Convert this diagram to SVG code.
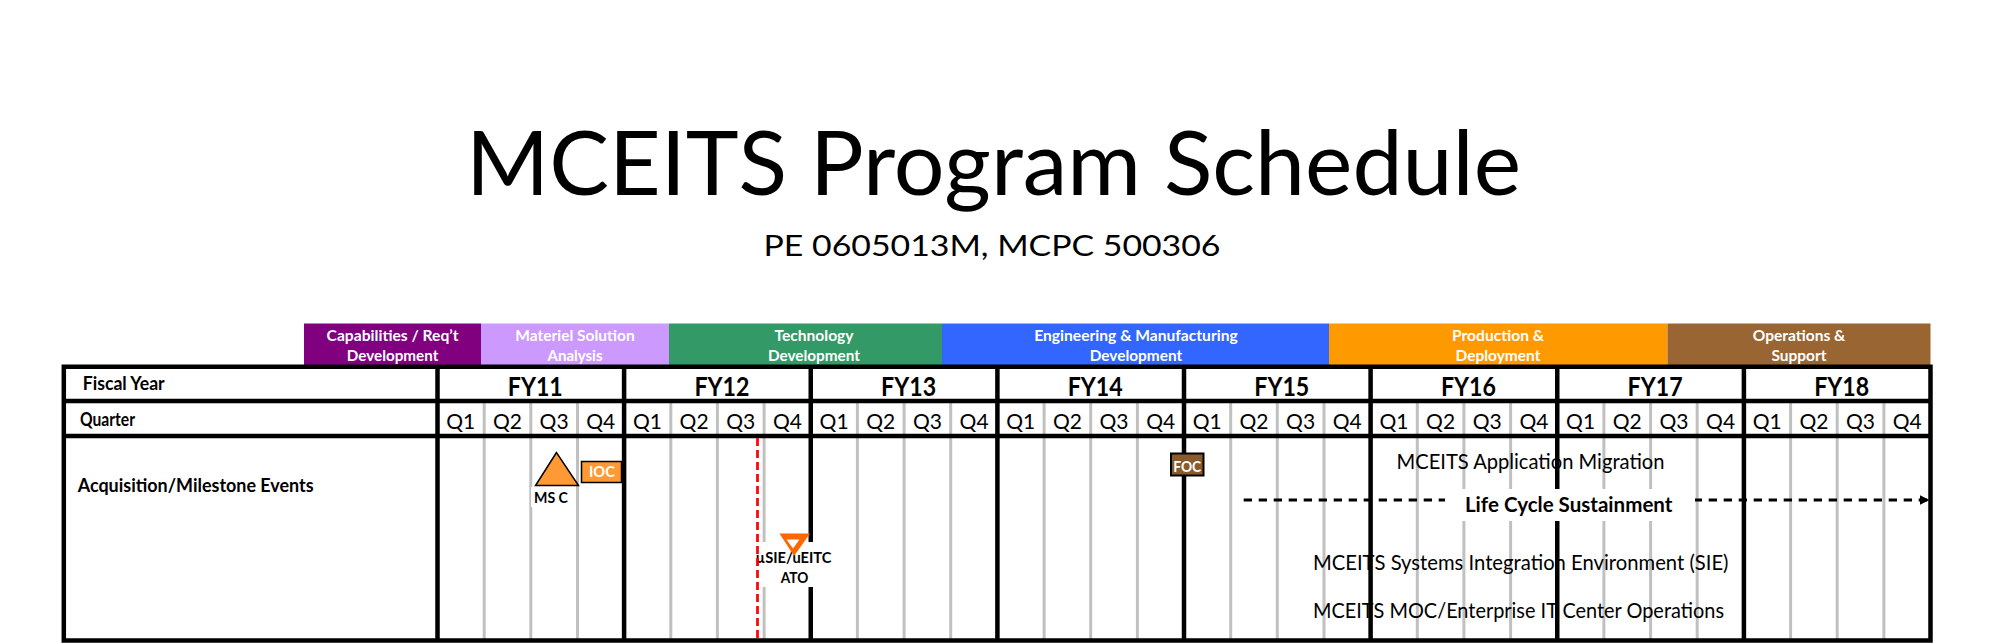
<svg xmlns="http://www.w3.org/2000/svg" width="2014" height="643" viewBox="0 0 2014 643">
<style>
text{font-family:Lato,"Liberation Sans",sans-serif;fill:#000}
.ph{font-size:15px;font-weight:bold;fill:#fff;text-anchor:middle}
.hd{font-size:18.5px;font-weight:bold}
.fy{font-size:26px;font-weight:bold;text-anchor:middle}
.q{font-size:21px;text-anchor:middle}
.row{font-size:20.5px}
.lbl{font-size:15px;font-weight:bold;text-anchor:middle}
.grid{stroke:#C0C0C0;stroke-width:3}
.bk{stroke:#000;stroke-width:4.5}
.wb{fill:#fff}
</style>
<defs>
<marker id="arr" markerUnits="userSpaceOnUse" markerWidth="11" markerHeight="11" refX="10" refY="5" orient="auto"><path d="M0,0 L10,5 L0,10 z" fill="#000"/></marker>
</defs>
<rect width="2014" height="643" fill="#fff"/>
<g id="title">
<text x="993.5" y="195" text-anchor="middle" font-size="89" textLength="1055" lengthAdjust="spacingAndGlyphs">MCEITS Program Schedule</text>
<text x="992" y="256" text-anchor="middle" font-size="29" textLength="457" lengthAdjust="spacingAndGlyphs">PE 0605013M, MCPC 500306</text>
</g>
<g id="phases">
<g id="phase-crd"><rect x="304" y="323.5" width="177" height="42.5" fill="#800080"/><text class="ph" x="392.6" y="341" textLength="132" lengthAdjust="spacingAndGlyphs">Capabilities / Req’t</text><text class="ph" x="392.6" y="361" textLength="91.5" lengthAdjust="spacingAndGlyphs">Development</text></g>
<g id="phase-msa"><rect x="481" y="323.5" width="188" height="42.5" fill="#CC99FF"/><text class="ph" x="575" y="341" textLength="119.5" lengthAdjust="spacingAndGlyphs">Materiel Solution</text><text class="ph" x="575" y="361" textLength="55" lengthAdjust="spacingAndGlyphs">Analysis</text></g>
<g id="phase-td"><rect x="669" y="323.5" width="273" height="42.5" fill="#339966"/><text class="ph" x="814" y="341" textLength="79" lengthAdjust="spacingAndGlyphs">Technology</text><text class="ph" x="814" y="361" textLength="92" lengthAdjust="spacingAndGlyphs">Development</text></g>
<g id="phase-emd"><rect x="942" y="323.5" width="387" height="42.5" fill="#3366FF"/><text class="ph" x="1136" y="341" textLength="203.5" lengthAdjust="spacingAndGlyphs">Engineering &amp; Manufacturing</text><text class="ph" x="1136" y="361" textLength="92.5" lengthAdjust="spacingAndGlyphs">Development</text></g>
<g id="phase-pd"><rect x="1329" y="323.5" width="338.5" height="42.5" fill="#FF9900"/><text class="ph" x="1498" y="341" textLength="92" lengthAdjust="spacingAndGlyphs">Production &amp;</text><text class="ph" x="1498" y="361" textLength="85" lengthAdjust="spacingAndGlyphs">Deployment</text></g>
<g id="phase-os"><rect x="1667.5" y="323.5" width="263" height="42.5" fill="#996633"/><text class="ph" x="1799" y="341" textLength="92.5" lengthAdjust="spacingAndGlyphs">Operations &amp;</text><text class="ph" x="1799" y="361" textLength="55" lengthAdjust="spacingAndGlyphs">Support</text></g>
</g>
<g id="grid-quarters">
<path class="grid" d="M484.2,401V640M530.8,401V640M577.5,401V640M670.8,401V640M717.4,401V640M764.1,401V640M857.4,401V640M904.1,401V640M950.7,401V640M1044.1,401V640M1090.7,401V640M1137.4,401V640M1230.7,401V640M1277.3,401V640M1324,401V640M1417.3,401V640M1463.9,401V640M1510.6,401V640M1603.9,401V640M1650.6,401V640M1697.2,401V640M1790.6,401V640M1837.2,401V640M1883.9,401V640"/>
</g>
<g id="header-labels">
<text class="hd" x="82.7" y="390" textLength="82" lengthAdjust="spacingAndGlyphs">Fiscal Year</text>
<text class="hd" x="80" y="425.7" textLength="55" lengthAdjust="spacingAndGlyphs">Quarter</text>
<text class="hd" x="77.7" y="491.7" font-size="17.5" textLength="236" lengthAdjust="spacingAndGlyphs">Acquisition/Milestone Events</text>
</g>
<g id="fiscal-years">
<text class="fy" x="535.3" y="395.5" textLength="55" lengthAdjust="spacingAndGlyphs">FY11</text>
<text class="fy" x="721.9" y="395.5" textLength="55" lengthAdjust="spacingAndGlyphs">FY12</text>
<text class="fy" x="908.6" y="395.5" textLength="55" lengthAdjust="spacingAndGlyphs">FY13</text>
<text class="fy" x="1095.2" y="395.5" textLength="55" lengthAdjust="spacingAndGlyphs">FY14</text>
<text class="fy" x="1281.8" y="395.5" textLength="55" lengthAdjust="spacingAndGlyphs">FY15</text>
<text class="fy" x="1468.5" y="395.5" textLength="55" lengthAdjust="spacingAndGlyphs">FY16</text>
<text class="fy" x="1655.1" y="395.5" textLength="55" lengthAdjust="spacingAndGlyphs">FY17</text>
<text class="fy" x="1841.7" y="395.5" textLength="55" lengthAdjust="spacingAndGlyphs">FY18</text>
</g>
<g id="quarters">
<text class="q" x="460.8" y="428.5">Q1</text><text class="q" x="507.5" y="428.5">Q2</text><text class="q" x="554.1" y="428.5">Q3</text><text class="q" x="600.8" y="428.5">Q4</text>
<text class="q" x="647.4" y="428.5">Q1</text><text class="q" x="694.1" y="428.5">Q2</text><text class="q" x="740.8" y="428.5">Q3</text><text class="q" x="787.4" y="428.5">Q4</text>
<text class="q" x="834.1" y="428.5">Q1</text><text class="q" x="880.7" y="428.5">Q2</text><text class="q" x="927.4" y="428.5">Q3</text><text class="q" x="974.1" y="428.5">Q4</text>
<text class="q" x="1020.7" y="428.5">Q1</text><text class="q" x="1067.4" y="428.5">Q2</text><text class="q" x="1114" y="428.5">Q3</text><text class="q" x="1160.7" y="428.5">Q4</text>
<text class="q" x="1207.3" y="428.5">Q1</text><text class="q" x="1254" y="428.5">Q2</text><text class="q" x="1300.6" y="428.5">Q3</text><text class="q" x="1347.3" y="428.5">Q4</text>
<text class="q" x="1394" y="428.5">Q1</text><text class="q" x="1440.6" y="428.5">Q2</text><text class="q" x="1487.3" y="428.5">Q3</text><text class="q" x="1533.9" y="428.5">Q4</text>
<text class="q" x="1580.6" y="428.5">Q1</text><text class="q" x="1627.2" y="428.5">Q2</text><text class="q" x="1673.9" y="428.5">Q3</text><text class="q" x="1720.6" y="428.5">Q4</text>
<text class="q" x="1767.2" y="428.5">Q1</text><text class="q" x="1813.9" y="428.5">Q2</text><text class="q" x="1860.5" y="428.5">Q3</text><text class="q" x="1907.2" y="428.5">Q4</text>
</g>
<g id="activity-migration"><text class="row" x="1396.5" y="469.3" textLength="268" lengthAdjust="spacingAndGlyphs">MCEITS Application Migration</text></g>
<g id="activity-sie"><text class="row" x="1313" y="570" textLength="415.5" lengthAdjust="spacingAndGlyphs">MCEITS Systems Integration Environment (SIE)</text></g>
<g id="activity-moc"><text class="row" x="1313" y="617.5" textLength="411" lengthAdjust="spacingAndGlyphs">MCEITS MOC/Enterprise IT Center Operations</text></g>
<g id="table-frame">
<path class="bk" fill="none" d="M63.8,366.8H1930.5V640.5H63.8Z"/>
<path class="bk" d="M63.8,401H1930.5M63.8,436H1930.5"/>
<path class="bk" d="M437.5,366.8V640.5M624.1,366.8V640.5M810.75,366.8V640.5M997.4,366.8V640.5M1184,366.8V640.5M1370.6,366.8V640.5M1557.25,366.8V640.5M1743.9,366.8V640.5"/>
</g>
<g id="connectors">
<line id="lcs-arrow" x1="1243.7" y1="500" x2="1929.5" y2="500" stroke="#000" stroke-width="3" stroke-dasharray="8.3 6.7" marker-end="url(#arr)"/>
</g>
<g id="life-cycle-sustainment">
<rect class="wb" x="1445" y="489" width="250" height="32"/>
<text x="1568.7" y="511.7" font-size="20" font-weight="bold" text-anchor="middle" textLength="207.5" lengthAdjust="spacingAndGlyphs">Life Cycle Sustainment</text>
</g>
<g id="ms-c">
<rect class="wb" x="531" y="487" width="40" height="20"/>
<polygon points="556.5,452.5 535.5,485.5 578.5,485.5" fill="#FF9933" stroke="#000" stroke-width="1.5"/>
<text class="lbl" x="551" y="503.3" font-size="16" textLength="34" lengthAdjust="spacingAndGlyphs">MS C</text>
</g>
<g id="ioc">
<rect x="581.5" y="461.5" width="40" height="21" fill="#FF9933" stroke="#000" stroke-width="1.5"/>
<text class="lbl" x="602" y="476.7" font-size="16" style="fill:#fff" textLength="26" lengthAdjust="spacingAndGlyphs">IOC</text>
</g>
<g id="usie-ato">
<rect class="wb" x="759" y="542" width="76" height="45"/>
<text class="lbl" x="793.5" y="563.3" textLength="76" lengthAdjust="spacingAndGlyphs">µSIE/uEITC</text>
<text class="lbl" x="794.5" y="582.7" textLength="27.5" lengthAdjust="spacingAndGlyphs">ATO</text>
<polygon points="779.5,533.5 810,533.5 794,556" fill="#FF6600"/>
<polygon points="786.5,539.5 799.5,539.5 793,548.5" fill="#fff"/>
</g>
<g id="ato-date-line">
<line x1="757.5" y1="438" x2="757.5" y2="640" stroke="#FF0000" stroke-width="2.7" stroke-dasharray="8 4"/>
</g>
<g id="foc">
<rect x="1171" y="453.5" width="32.5" height="22" fill="#8B5A2B" stroke="#000" stroke-width="2"/>
<text class="lbl" x="1187.2" y="471.7" font-size="16" style="fill:#fff" textLength="28" lengthAdjust="spacingAndGlyphs">FOC</text>
</g>
</svg>
